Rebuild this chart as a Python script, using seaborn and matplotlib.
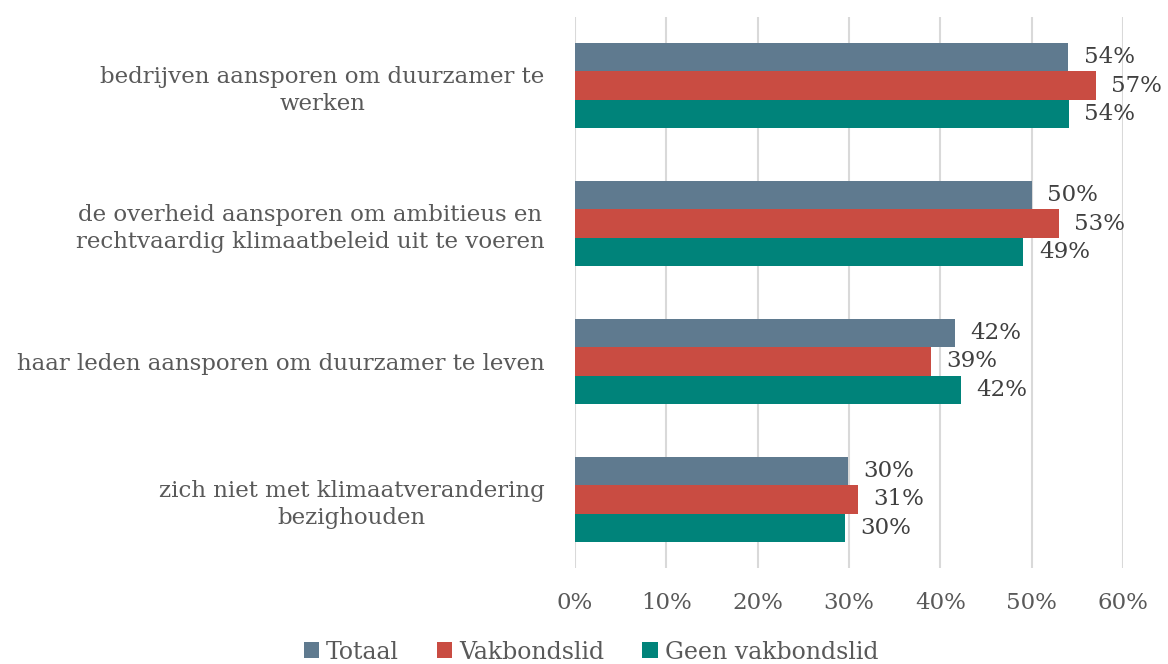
import numpy as np
import pandas as pd
import matplotlib
matplotlib.use("Agg")
import matplotlib.pyplot as plt
import seaborn as sns

categories = [
    "bedrijven aansporen om duurzamer te\nwerken",
    "de overheid aansporen om ambitieus en\nrechtvaardig klimaatbeleid uit te voeren",
    "haar leden aansporen om duurzamer te leven",
    "zich niet met klimaatverandering\nbezighouden",
]
series_names = ["Totaal", "Vakbondslid", "Geen vakbondslid"]
totaal = [54.0, 50.0, 41.6, 29.9]
vakbondslid = [57.0, 53.0, 39.0, 31.0]
geen_vakbondslid = [54.1, 49.1, 42.3, 29.6]
colors = ["#5F7A8F", "#C94C42", "#00837A"]
xticks = [0, 10, 20, 30, 40, 50, 60]

sns.set_theme(style="white")
plt.rcParams["font.family"] = ["DejaVu Serif"]

rows = []
for name, vals in zip(series_names, [totaal, vakbondslid, geen_vakbondslid]):
    for c, v in zip(categories, vals):
        rows.append({"categorie": c, "groep": name, "waarde": v})
df = pd.DataFrame(rows)

fig = plt.figure(figsize=(11.68, 6.64), dpi=100)
ax = fig.add_axes([0.4923, 0.144, 0.9615 - 0.4923, 0.975 - 0.144])

sns.barplot(data=df, y="categorie", x="waarde", hue="groep", order=categories,
            hue_order=series_names, palette=colors, orient="h", width=0.62,
            saturation=1, edgecolor="none", ax=ax, legend=True)

ax.set_xlim(0, 60)
ax.set_ylim(3.5, -0.5)
ax.set_xticks(xticks)
ax.set_xticklabels([f"{t}%" for t in xticks])
ax.xaxis.grid(True, color="#D9D9D9", linewidth=1.5)
ax.set_axisbelow(True)
for s in ax.spines.values():
    s.set_visible(False)
ax.set_xlabel("")
ax.set_ylabel("")
ax.tick_params(axis="x", length=0, pad=17, labelsize=16.5, labelcolor="#595959")
ax.tick_params(axis="y", length=0, pad=22, labelsize=16.5, labelcolor="#595959")
for lab in ax.get_yticklabels():
    lab.set_horizontalalignment("right")
    lab.set_multialignment("center")
    lab.set_linespacing(1.3)

for cont in ax.containers:
    ax.bar_label(cont, labels=[f"{v:.0f}%" for v in cont.datavalues],
                 padding=11, fontsize=16.5, color="#404040")

handles, labels = ax.get_legend_handles_labels()
ax.get_legend().remove()
fig.legend(handles, labels, loc="center", bbox_to_anchor=(0.506, 0.018),
           ncol=3, frameon=False, fontsize=17, labelcolor="#595959",
           handlelength=0.65, handleheight=0.65, handletextpad=0.3,
           columnspacing=1.6)

fig.savefig("out.png", dpi=100)
